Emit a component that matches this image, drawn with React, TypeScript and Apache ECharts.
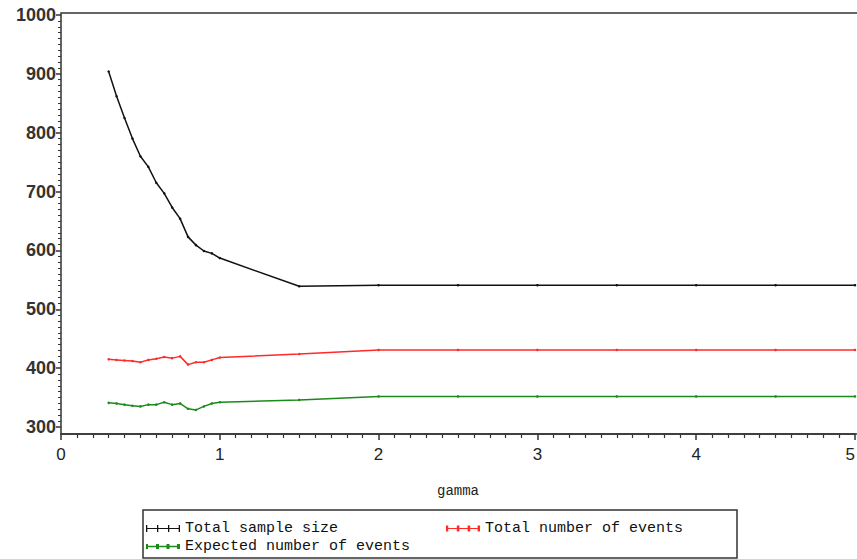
import React, { useEffect, useRef } from "react";
import * as echarts from "echarts";

const gamma = [0.3, 0.35, 0.4, 0.45, 0.5, 0.55, 0.6, 0.65, 0.7, 0.75, 0.8, 0.85, 0.9, 0.95, 1.0, 1.5, 2, 2.5, 3, 3.5, 4, 4.5, 5];
const totalSampleSize = [904, 862, 825, 790, 760, 742, 715, 697, 673, 654, 623, 609, 599, 595, 587, 539, 541, 541, 541, 541, 541, 541, 541];
const totalEvents = [415, 414, 413, 412, 410, 414, 416, 419, 417, 420, 406, 410, 410, 414, 418, 424, 431, 431, 431, 431, 431, 431, 431];
const expectedEvents = [341, 340, 338, 336, 335, 338, 338, 342, 338, 340, 331, 329, 335, 340, 342, 346, 352, 352, 352, 352, 352, 352, 352];
const seriesNames = ["Total sample size", "Total number of events", "Expected number of events"];
const xTicks = [0, 1, 2, 3, 4, 5];
const yTicks = [300, 400, 500, 600, 700, 800, 900, 1000];

const colors = ["#111111", "#ff2a2a", "#1a8a1a"];
const legendIcons = [
  "path://M0,3.4h34v1.2h-34z M0,0.5h1.3v7h-1.3z M11,0.5h1.3v7h-1.3z M22,0.5h1.3v7h-1.3z M32.7,0.5h1.3v7h-1.3z",
  "path://M0,3.4h34v1.2h-34z M0,1h2.2v6h-2.2z M10.8,1h2.6v6h-2.6z M21.6,1h2.6v6h-2.6z M31.6,1h2.4v6h-2.4z",
  "path://M0,3.2h34v1.6h-34z M0,1.5h2v5h-2z M10,1.5h3v5h-3z M20.5,1.5h3v5h-3z M31,1.5h3v5h-3z",
];

export default function App() {
  const ref = useRef<HTMLDivElement>(null);
  useEffect(() => {
    const chart = echarts.init(ref.current!, null, { renderer: "svg" });
    const pair = (ys: number[]) => gamma.map((g, i) => [g, ys[i]]);
    const mono = "Liberation Mono, monospace";
    const legendBase = {
      itemWidth: 34,
      itemHeight: 8,
      itemGap: 0,
      selectedMode: false,
      padding: 0,
      textStyle: { fontFamily: mono, fontSize: 15, color: "#111" },
    };
    chart.setOption({
      animation: false,
      backgroundColor: "#fff",
      grid: { left: 61, right: 2, top: 15, bottom: 132, outerBoundsMode: "none", containLabel: false },
      xAxis: {
        type: "value",
        min: xTicks[0],
        max: xTicks[xTicks.length - 1],
        interval: 1,
        offset: 7,
        axisLine: { show: true, lineStyle: { color: "#333", width: 1.5 } },
        axisTick: { show: true, length: 6, lineStyle: { color: "#333", width: 1.5 } },
        minorTick: { show: true, splitNumber: 10, length: 4, lineStyle: { color: "#333", width: 1.2 } },
        splitLine: { show: false },
        axisLabel: {
          margin: 12,
          fontSize: 17,
          color: "#222",
          fontFamily: "Liberation Sans Narrow, Liberation Sans, sans-serif",
          showMaxLabel: true,
          alignMaxLabel: "right",
          formatter: (v: number) => String(v),
        },
        name: "gamma",
        nameLocation: "middle",
        nameGap: 50,
        nameTextStyle: { fontFamily: mono, fontSize: 14, color: "#222" },
      },
      yAxis: {
        type: "value",
        min: yTicks[0],
        max: yTicks[yTicks.length - 1],
        interval: 100,
        axisLine: { show: false },
        axisTick: { show: true, length: 5, lineStyle: { color: "#333", width: 1.5 } },
        minorTick: { show: true, splitNumber: 10, length: 3, lineStyle: { color: "#333", width: 1 } },
        splitLine: { show: false },
        axisLabel: {
          margin: 5,
          fontSize: 18,
          fontWeight: "bold",
          color: "#333",
          fontFamily: "Liberation Sans, Arial, sans-serif",
          formatter: (v: number) => String(v),
        },
      },
      legend: [
        { ...legendBase, icon: legendIcons[0], data: [seriesNames[0]], left: 146, top: 521 },
        { ...legendBase, icon: legendIcons[1], data: [seriesNames[1]], left: 446, top: 521 },
        { ...legendBase, icon: legendIcons[2], data: [seriesNames[2]], left: 146, top: 539 },
      ],
      graphic: [
        {
          type: "rect",
          shape: { x: 61, y: 13, width: 830, height: 421 },
          style: { fill: "none", stroke: "#333", lineWidth: 1.5 },
          silent: true,
        },
        {
          type: "rect",
          shape: { x: 143, y: 510, width: 594, height: 48 },
          style: { fill: "none", stroke: "#333", lineWidth: 1.5 },
          silent: true,
        },
      ],
      series: [
        { name: seriesNames[0], data: pair(totalSampleSize) },
        { name: seriesNames[1], data: pair(totalEvents) },
        { name: seriesNames[2], data: pair(expectedEvents) },
      ].map((s, i) => ({
        ...s,
        type: "line",
        symbol: "circle",
        symbolSize: 2.5,
        showSymbol: true,
        color: colors[i],
        itemStyle: { color: colors[i] },
        lineStyle: { color: colors[i], width: 1.5 },
      })),
    });
    return () => chart.dispose();
  }, []);
  return (
    <div
      ref={ref}
      style={{ position: "fixed", left: 0, top: 0, width: 857, height: 559, background: "#fff" }}
    />
  );
}
